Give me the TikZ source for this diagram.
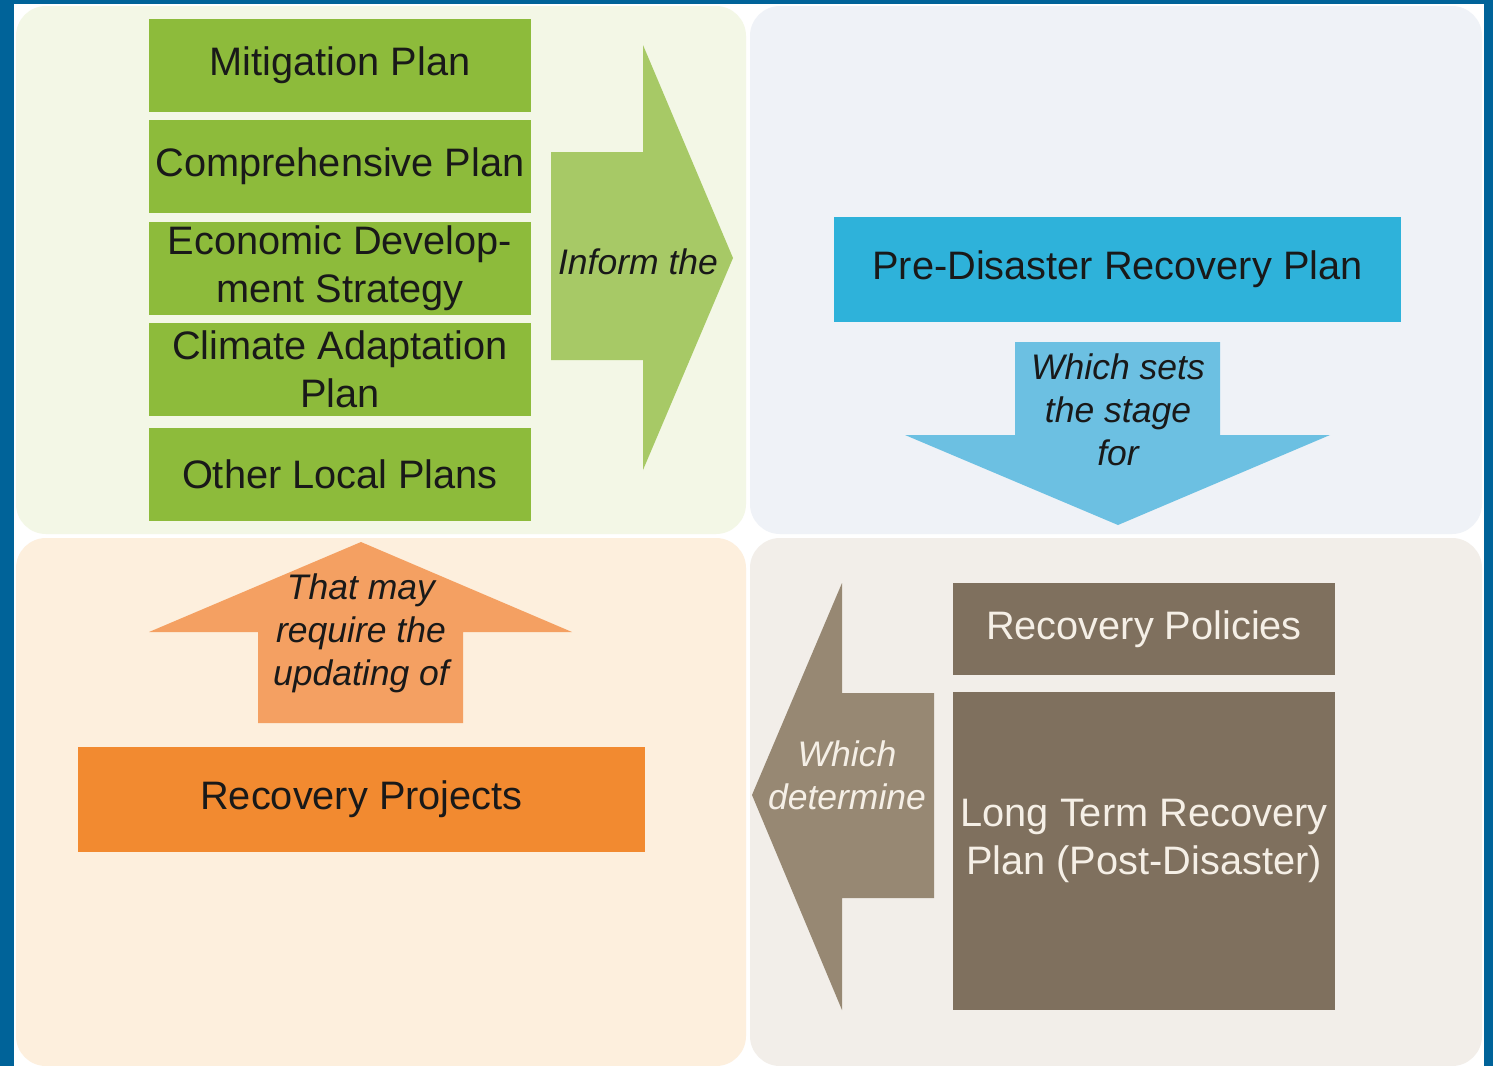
\documentclass[tikz,border=0pt]{standalone}
\usepackage{fontspec}
\setmainfont{Liberation Sans}
\usetikzlibrary{positioning}

\definecolor{frameblue}{HTML}{006399}
\definecolor{tlpanel}{HTML}{F3F7E6}
\definecolor{trpanel}{HTML}{EFF2F7}
\definecolor{blpanel}{HTML}{FDEFDD}
\definecolor{brpanel}{HTML}{F2EEE9}
\definecolor{plangreen}{HTML}{8DBB3B}
\definecolor{informgreen}{HTML}{A7C966}
\definecolor{preblue}{HTML}{2EB2DA}
\definecolor{stageblue}{HTML}{6CC0E2}
\definecolor{policybrown}{HTML}{7F705E}
\definecolor{determbrown}{HTML}{978873}
\definecolor{projorange}{HTML}{F28A30}
\definecolor{updateorange}{HTML}{F4A062}
\definecolor{lighttext}{HTML}{F5EFE6}

\newcommand{\boxfont}{\fontsize{11.3}{13.6}\selectfont}
\newcommand{\cuefont}{\fontsize{10.1}{12.2}\selectfont\itshape}

\begin{document}
\begin{tikzpicture}[
    x=0.01cm, y=-0.01cm,
    % 定义样式
    panel/.style={rounded corners=0.3cm},
    box/.style={inner sep=0pt, align=center, font=\boxfont, text=black!90},
    planbox/.style={box, fill=plangreen, minimum width=3.82cm, minimum height=0.93cm},
    widebox/.style={box, minimum width=5.67cm, minimum height=1.05cm},
    brownbox/.style={box, fill=policybrown, text=lighttext, minimum width=3.82cm},
    cue/.style={inner sep=0pt, align=center, font=\cuefont, text=black!90}
]

% --- 背景 ---
\useasboundingbox (0,0) rectangle (1493,1066);
\fill[frameblue] (0,0) rectangle (1493,1066);
\fill[white] (14,4) rectangle (1484,1066);
\fill[tlpanel, panel] (16,6) rectangle (746,534);
\fill[trpanel, panel] (750,6) rectangle (1482,534);
\fill[blpanel, panel] (16,538) rectangle (746,1066);
\fill[brpanel, panel] (750,538) rectangle (1482,1066);

% --- 绘制块箭头 ---

% 1. 绿色箭头 (向右)
\fill[informgreen] (551,152) -- (643,152) -- (643,45) -- (733,258)
    -- (643,470) -- (643,360) -- (551,360) -- cycle;

% 2. 蓝色箭头 (向下)
\fill[stageblue] (1015,342) -- (1220,342) -- (1220,435) -- (1330,435)
    -- (1118,525) -- (905,435) -- (1015,435) -- cycle;

% 3. 棕色箭头 (向左)
\fill[determbrown] (934,693) -- (934,898) -- (842,898) -- (842,1010)
    -- (752,795) -- (842,583) -- (842,693) -- cycle;

% 4. 橙色箭头 (向上)
\fill[updateorange] (258,723) -- (463,723) -- (463,632) -- (572,632)
    -- (361,542) -- (149,632) -- (258,632) -- cycle;

% --- 绘制节点 ---

% 1. 地方规划
\foreach \n/\y/\txt in {1/65.5/{Mitigation Plan}, 2/166.5/{Comprehensive Plan},
    3/268.5/{Economic Develop-\\ment Strategy}, 4/369.5/{Climate Adaptation\\Plan},
    5/474.5/{Other Local Plans}}
    \node[planbox] (P-\n) at (340,\y) {\txt};

% 2. 灾前恢复规划
\node[widebox, fill=preblue] (pre) at (1117.5,269.5) {Pre-Disaster Recovery Plan};

% 3. 恢复政策与长期规划
\node[brownbox, minimum height=0.92cm] (policy) at (1144,629) {Recovery Policies};
\node[brownbox, minimum height=3.18cm] (longterm) at (1144,851) {};
\node[box, text=lighttext] (longterm-txt) at (1144,841)
    {Long Term Recovery\\Plan (Post-Disaster)};

% 4. 恢复项目
\node[widebox, fill=projorange] (projects) at (361.5,799.5) {Recovery Projects};

% --- 箭头文字 ---
\node[cue] (inform) at (638,262) {Inform the};
\node[cue] (stage) at (1118,410) {Which sets\\the stage\\for};
\node[cue, text=lighttext] (determine) at (847,775) {Which\\determine};
\node[cue] (update) at (361,633) {That may\\require the\\updating of};

\end{tikzpicture}
\end{document}
